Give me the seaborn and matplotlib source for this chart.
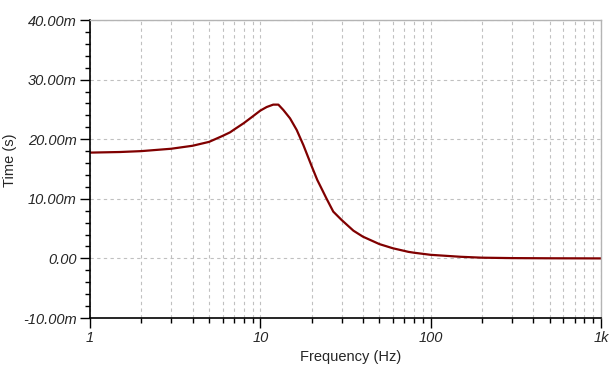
import numpy as np
import pandas as pd
import matplotlib
matplotlib.use("Agg")
import matplotlib.pyplot as plt
import matplotlib.ticker as mticker
import seaborn as sns

# values (frequency in Hz, time in ms)
freq_hz = [1, 1.5, 2, 3, 4, 5, 6, 6.64, 7, 8, 9, 10, 10.9, 11.9, 12.76, 13.65, 14.94,
           16.35, 17.9, 20, 21.6, 22.4, 24.5, 26.8, 30, 35.2, 40, 50, 60, 74, 80, 100,
           150, 200, 300, 500, 1000]
time_ms = [17.75, 17.85, 18.0, 18.4, 18.9, 19.55, 20.55, 21.15, 21.6, 22.7, 23.8, 24.8, 25.4,
           25.8, 25.8, 24.9, 23.5, 21.55, 19.0, 15.5, 13.15, 12.25, 10.0, 7.85, 6.45, 4.65,
           3.65, 2.4, 1.7, 1.1, 0.95, 0.6, 0.27, 0.12, 0.05, 0.02, 0.0]

y_ticks = [-10, 0, 10, 20, 30, 40]
y_tick_labels = ["-10.00m", "0.00", "10.00m", "20.00m", "30.00m", "40.00m"]
x_ticks = [1, 10, 100, 1000]
x_tick_labels = ["1", "10", "100", "1k"]

df = pd.DataFrame({"freq": freq_hz, "time": time_ms})

sns.set_style("white")
plt.rcParams['font.family'] = ['Liberation Sans', 'DejaVu Sans']

fig = plt.figure(figsize=(6.11, 3.79), dpi=100)
ax = fig.add_axes([90 / 611, 1 - 318 / 379, 511 / 611, 298 / 379])

sns.lineplot(data=df, x="freq", y="time", ax=ax, color="#800000", linewidth=1.6,
             estimator=None, sort=True)

ax.set_xscale("log")
ax.set_xlim(1, 1000)
ax.set_ylim(-10, 40)

ax.set_xticks(x_ticks)
ax.set_xticklabels(x_tick_labels, fontsize=10.5, style="italic")
ax.xaxis.set_minor_locator(mticker.LogLocator(base=10, subs=np.arange(2, 10)))
ax.xaxis.set_minor_formatter(mticker.NullFormatter())

ax.set_yticks(y_ticks)
ax.set_yticklabels(y_tick_labels, fontsize=10.5, style="italic")
ax.yaxis.set_minor_locator(mticker.MultipleLocator(2))

ax.tick_params(axis="both", which="major", direction="out", length=7.5, width=1,
               color="black", pad=2, bottom=True, left=True)
ax.tick_params(axis="both", which="minor", direction="out", length=3.5, width=1,
               color="black", bottom=True, left=True)

ax.grid(True, which="major", axis="y", color="#c0c0c0", linestyle=(0, (3, 3)), linewidth=0.8)
ax.grid(True, which="both", axis="x", color="#c0c0c0", linestyle=(0, (3, 3)), linewidth=0.8)

for side in ["left", "bottom"]:
    ax.spines[side].set_color("black")
    ax.spines[side].set_linewidth(1.2)
for side in ["top", "right"]:
    ax.spines[side].set_color("#b4b4b4")
    ax.spines[side].set_linewidth(1.0)

ax.set_xlabel("Frequency (Hz)", fontsize=10.5)
ax.set_ylabel("Time (s)", fontsize=10.5)
ax.xaxis.label.set_va("center")
ax.yaxis.label.set_va("center")
ax.xaxis.set_label_coords(0.511, -0.131)
ax.yaxis.set_label_coords(-0.1556, 0.5285)

fig.savefig("out.png", dpi=100)
